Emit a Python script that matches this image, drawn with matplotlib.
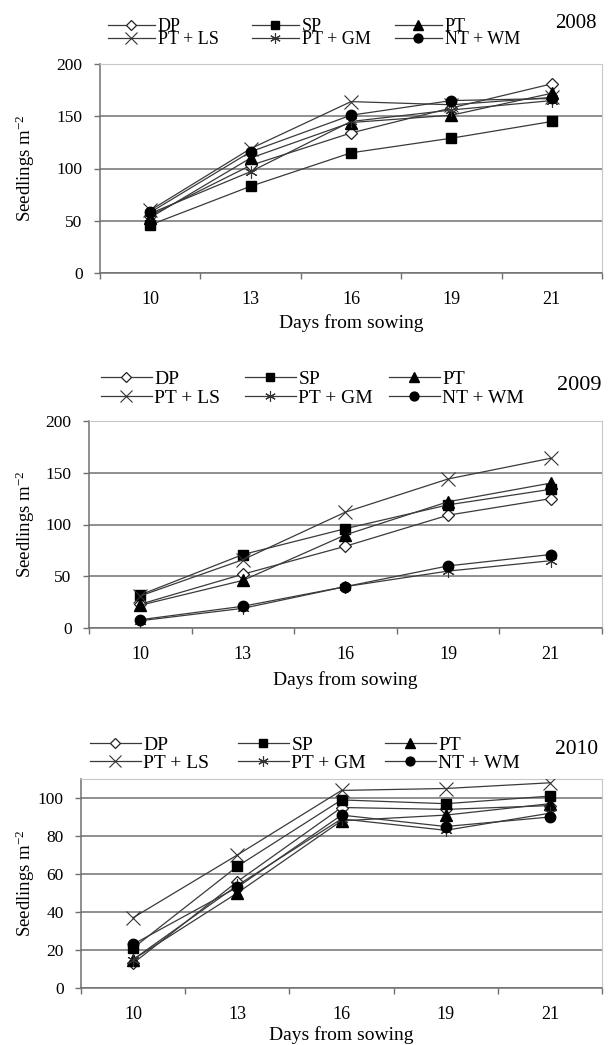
import matplotlib
matplotlib.use("Agg")
import matplotlib.pyplot as plt

plt.rcParams['font.family'] = ['Liberation Serif', 'DejaVu Serif']
plt.rcParams['mathtext.fontset'] = 'custom'
plt.rcParams['mathtext.rm'] = 'Liberation Serif'
plt.rcParams['mathtext.it'] = 'Liberation Serif'

days = ['10', '13', '16', '19', '21']
labels = ['DP', 'SP', 'PT', 'PT + LS', 'PT + GM', 'NT + WM']

dp_08 = [55, 103, 134, 158, 181]
sp_08 = [46, 83, 115, 129, 145]
pt_08 = [53, 110, 144, 151, 172]
ls_08 = [60, 119, 164, 161, 168]
gm_08 = [57, 97, 145, 156, 165]
wm_08 = [58, 116, 151, 165, 167]

dp_09 = [23, 52, 79, 109, 125]
sp_09 = [32, 71, 96, 119, 134]
pt_09 = [22, 46, 90, 122, 140]
ls_09 = [31, 66, 112, 144, 164]
gm_09 = [7, 19, 40, 55, 65]
wm_09 = [8, 21, 40, 60, 71]

dp_10 = [13, 56, 95, 94, 96]
sp_10 = [21, 64, 99, 97, 101]
pt_10 = [15, 50, 88, 91, 97]
ls_10 = [37, 70, 104, 105, 108]
gm_10 = [15, 54, 89, 83, 92]
wm_10 = [23, 53, 91, 85, 90]

years = ['2008', '2009', '2010']

W, H = 609, 1045
fig = plt.figure(figsize=(W / 100, H / 100), dpi=100)

LINE = '#3a3a3a'
GRID = '#707070'
styles = [
    dict(marker='D', markersize=6.5, markerfacecolor='white', markeredgecolor='#222222', markeredgewidth=0.9),
    dict(marker='s', markersize=7, markerfacecolor='black', markeredgecolor='black'),
    dict(marker='^', markersize=8, markerfacecolor='black', markeredgecolor='black'),
    dict(marker='x', markersize=10, markeredgecolor='#333333', markeredgewidth=0.8),
    dict(marker=(6, 2, 0), markersize=9, markeredgecolor='#333333', markeredgewidth=0.8),
    dict(marker='o', markersize=7.5, markerfacecolor='black', markeredgecolor='black'),
]

# panel geometry in pixels: left, right, top, bottom
panels = [
    dict(l=100, r=602, t=64, b=273, data=[dp_08, sp_08, pt_08, ls_08, gm_08, wm_08],
         ymax=200, yt=[0, 50, 100, 150, 200], leg_top=18, leg_x=[108, 252, 395], rowsp=-0.22,
         year_xy=(597, 23), yfs=15, legfs=13, xl_y=323),
    dict(l=89, r=602, t=421, b=628, data=[dp_09, sp_09, pt_09, ls_09, gm_09, wm_09],
         ymax=200, yt=[0, 50, 100, 150, 200], leg_top=370, leg_x=[101, 245, 389], rowsp=0.1,
         year_xy=(602, 385), yfs=16, legfs=14, xl_y=680),
    dict(l=81, r=602, t=779, b=988, data=[dp_10, sp_10, pt_10, ls_10, gm_10, wm_10],
         ymax=110, yt=[0, 20, 40, 60, 80, 100], leg_top=736, leg_x=[90, 238, 385], rowsp=0.05,
         year_xy=(598, 750), yfs=15.5, legfs=14, xl_y=1035),
]

x = list(range(len(days)))
for p, yr in zip(panels, years):
    ax = fig.add_axes([p['l'] / W, 1 - p['b'] / H, (p['r'] - p['l']) / W, (p['b'] - p['t']) / H])
    handles = []
    for vals, lab, st in zip(p['data'], labels, styles):
        h, = ax.plot(x, vals, color=LINE, linewidth=0.9, label=lab, zorder=3, **st)
        handles.append(h)
    ax.set_xlim(-0.5, len(days) - 0.5)
    ax.set_ylim(0, p['ymax'])
    ax.set_yticks(p['yt'])
    ax.set_yticklabels([str(v) for v in p['yt']], fontsize=12.5)
    ax.set_xticks([i - 0.5 for i in range(len(days) + 1)])
    ax.set_xticklabels([])
    ax.set_xticks(x, minor=True)
    ax.set_xticklabels(days, minor=True, fontsize=13)
    ax.tick_params(axis='x', which='major', direction='out', length=4, color=GRID, width=1)
    ax.tick_params(axis='x', which='minor', length=0, pad=13)
    ax.tick_params(axis='y', direction='out', length=4, color=GRID, width=1, pad=8.5)
    ax.yaxis.grid(True, color=GRID, linewidth=1.1)
    ax.set_axisbelow(True)
    for s in ['left', 'bottom']:
        ax.spines[s].set_color(GRID)
        ax.spines[s].set_linewidth(1.1)
    for s in ['top', 'right']:
        ax.spines[s].set_color('#c8c8c8')
        ax.spines[s].set_linewidth(0.8)
    ax.set_ylabel('Seedlings m$^{-2}$', fontsize=13.5)
    ax.yaxis.label.set_verticalalignment('center')
    ax.yaxis.set_label_coords((25 - p['l']) / (p['r'] - p['l']), 0.5)
    ax.set_xlabel('Days from sowing', fontsize=14)
    ax.xaxis.set_label_coords(0.5, (p['b'] - p['xl_y']) / (p['b'] - p['t']))
    ax.xaxis.label.set_verticalalignment('center')

    for c in range(3):
        hs = [handles[c], handles[c + 3]]
        ls = [labels[c], labels[c + 3]]
        fig.legend(hs, ls, loc='upper left',
                   bbox_to_anchor=(p['leg_x'][c] / W, 1 - p['leg_top'] / H),
                   bbox_transform=fig.transFigure, frameon=False,
                   fontsize=p['legfs'], handlelength=2.6, handletextpad=0.15,
                   labelspacing=p['rowsp'], borderpad=0, borderaxespad=0,
                   markerscale=0.85)
    fig.text(p['year_xy'][0] / W, 1 - p['year_xy'][1] / H, yr, ha='right', va='center',
             fontsize=p['yfs'])

fig.savefig('out.png', dpi=100)
